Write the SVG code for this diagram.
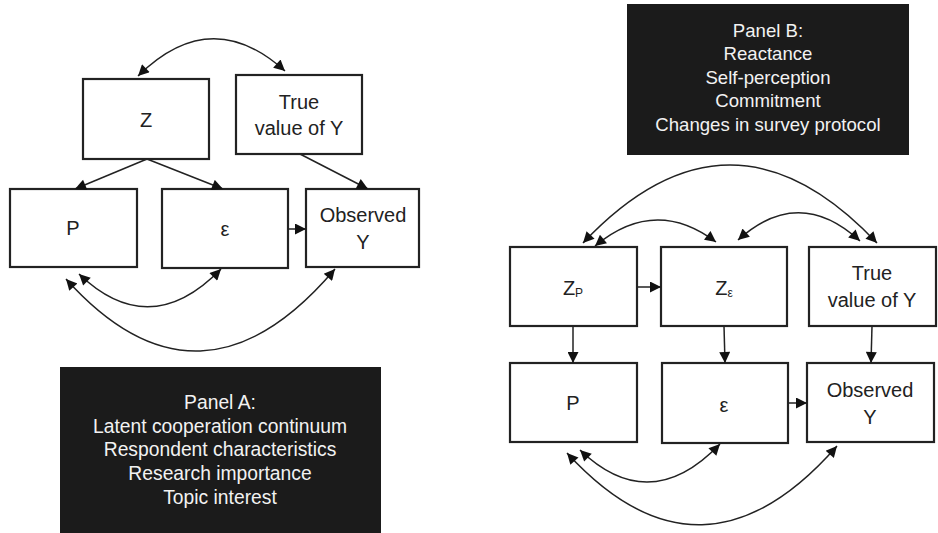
<svg xmlns="http://www.w3.org/2000/svg" width="938" height="533" viewBox="0 0 938 533">
<style>
.box{fill:#fff;stroke:#222;stroke-width:2.2}
.panel{fill:#1b1b1b}
.t{font-family:"Liberation Sans",Arial,sans-serif;font-size:20px;fill:#222;text-anchor:middle}
.pt{font-family:"Liberation Sans",Arial,sans-serif;font-size:19.3px;fill:#f2f2f2;text-anchor:middle}
.ptb{font-family:"Liberation Sans",Arial,sans-serif;font-size:18.6px;fill:#f2f2f2;text-anchor:middle}
.c{fill:none;stroke:#222;stroke-width:1.5}
</style>
<defs>
<marker id="ah" viewBox="0 0 10 10" refX="10" refY="5" markerWidth="13" markerHeight="11" markerUnits="userSpaceOnUse" orient="auto-start-reverse">
<path d="M0,0 L10,5 L0,10 Z" fill="#111"/>
</marker>
</defs>
<rect width="938" height="533" fill="#fff"/>

<g id="panelA">
<rect class="panel" x="60" y="367" width="321" height="166"/>
<text class="pt" x="220" y="409">Panel A:</text>
<text class="pt" x="220" y="433">Latent cooperation continuum</text>
<text class="pt" x="220" y="456">Respondent characteristics</text>
<text class="pt" x="220" y="480">Research importance</text>
<text class="pt" x="220" y="504">Topic interest</text>
</g>
<g id="panelB">
<rect class="panel" x="627" y="4" width="282" height="151"/>
<text class="ptb" x="768" y="37">Panel B:</text>
<text class="ptb" x="768" y="60">Reactance</text>
<text class="ptb" x="768" y="84">Self-perception</text>
<text class="ptb" x="768" y="107">Commitment</text>
<text class="ptb" x="768" y="131">Changes in survey protocol</text>
</g>

<g id="A_Z"><rect class="box" x="83" y="79" width="126" height="80"/><text class="t" x="146" y="127">Z</text></g>
<g id="A_True"><rect class="box" x="236" y="75" width="126" height="79"/><text class="t" x="299" y="109">True</text><text class="t" x="299" y="135">value of Y</text></g>
<g id="A_P"><rect class="box" x="10" y="189" width="127" height="78"/><text class="t" x="73" y="235">P</text></g>
<g id="A_eps"><rect class="box" x="162" y="189" width="126" height="79"/><text class="t" x="225" y="236">ε</text></g>
<g id="A_Obs"><rect class="box" x="306" y="189" width="113" height="78"/><text class="t" x="363" y="222">Observed</text><text class="t" x="363" y="249">Y</text></g>

<g id="B_Zp"><rect class="box" x="510" y="247" width="127" height="79"/><text class="t" x="573" y="295">Z<tspan font-size="12" dy="2">P</tspan></text></g>
<g id="B_Ze"><rect class="box" x="661" y="247" width="126" height="79"/><text class="t" x="724" y="295">Z<tspan font-size="12" dy="2">ε</tspan></text></g>
<g id="B_True"><rect class="box" x="809" y="247" width="127" height="79"/><text class="t" x="872" y="280">True</text><text class="t" x="872" y="307">value of Y</text></g>
<g id="B_P"><rect class="box" x="510" y="363" width="127" height="79"/><text class="t" x="573" y="410">P</text></g>
<g id="B_eps"><rect class="box" x="662" y="363" width="126" height="80"/><text class="t" x="724" y="412">ε</text></g>
<g id="B_Obs"><rect class="box" x="807" y="363" width="127" height="79"/><text class="t" x="870" y="397">Observed</text><text class="t" x="870" y="424">Y</text></g>

<g id="connectors">
<path class="c" d="M138,76 Q211,4 285,71" marker-start="url(#ah)" marker-end="url(#ah)"/>
<path class="c" d="M147,159 L75,189" marker-end="url(#ah)"/>
<path class="c" d="M147,159 L223,189" marker-end="url(#ah)"/>
<path class="c" d="M300,154 L368,189" marker-end="url(#ah)"/>
<path class="c" d="M288,229 L306,229" marker-end="url(#ah)"/>
<path class="c" d="M79,274 Q150,342 221,269" marker-start="url(#ah)" marker-end="url(#ah)"/>
<path class="c" d="M66,279 Q200,428 335,269" marker-start="url(#ah)" marker-end="url(#ah)"/>

<path class="c" d="M583,243 Q730,87 877,243" marker-start="url(#ah)" marker-end="url(#ah)"/>
<path class="c" d="M595,246 Q655,196 716,242" marker-start="url(#ah)" marker-end="url(#ah)"/>
<path class="c" d="M738,240 Q799,185 860,241" marker-start="url(#ah)" marker-end="url(#ah)"/>
<path class="c" d="M637,287 L661,287" marker-end="url(#ah)"/>
<path class="c" d="M573,326 L573,363" marker-end="url(#ah)"/>
<path class="c" d="M724,326 L725,363" marker-end="url(#ah)"/>
<path class="c" d="M872,326 L871,363" marker-end="url(#ah)"/>
<path class="c" d="M788,403 L807,403" marker-end="url(#ah)"/>
<path class="c" d="M580,450 Q650,517 720,444" marker-start="url(#ah)" marker-end="url(#ah)"/>
<path class="c" d="M567,453 Q702,600 837,446" marker-start="url(#ah)" marker-end="url(#ah)"/>
</g>
</svg>
